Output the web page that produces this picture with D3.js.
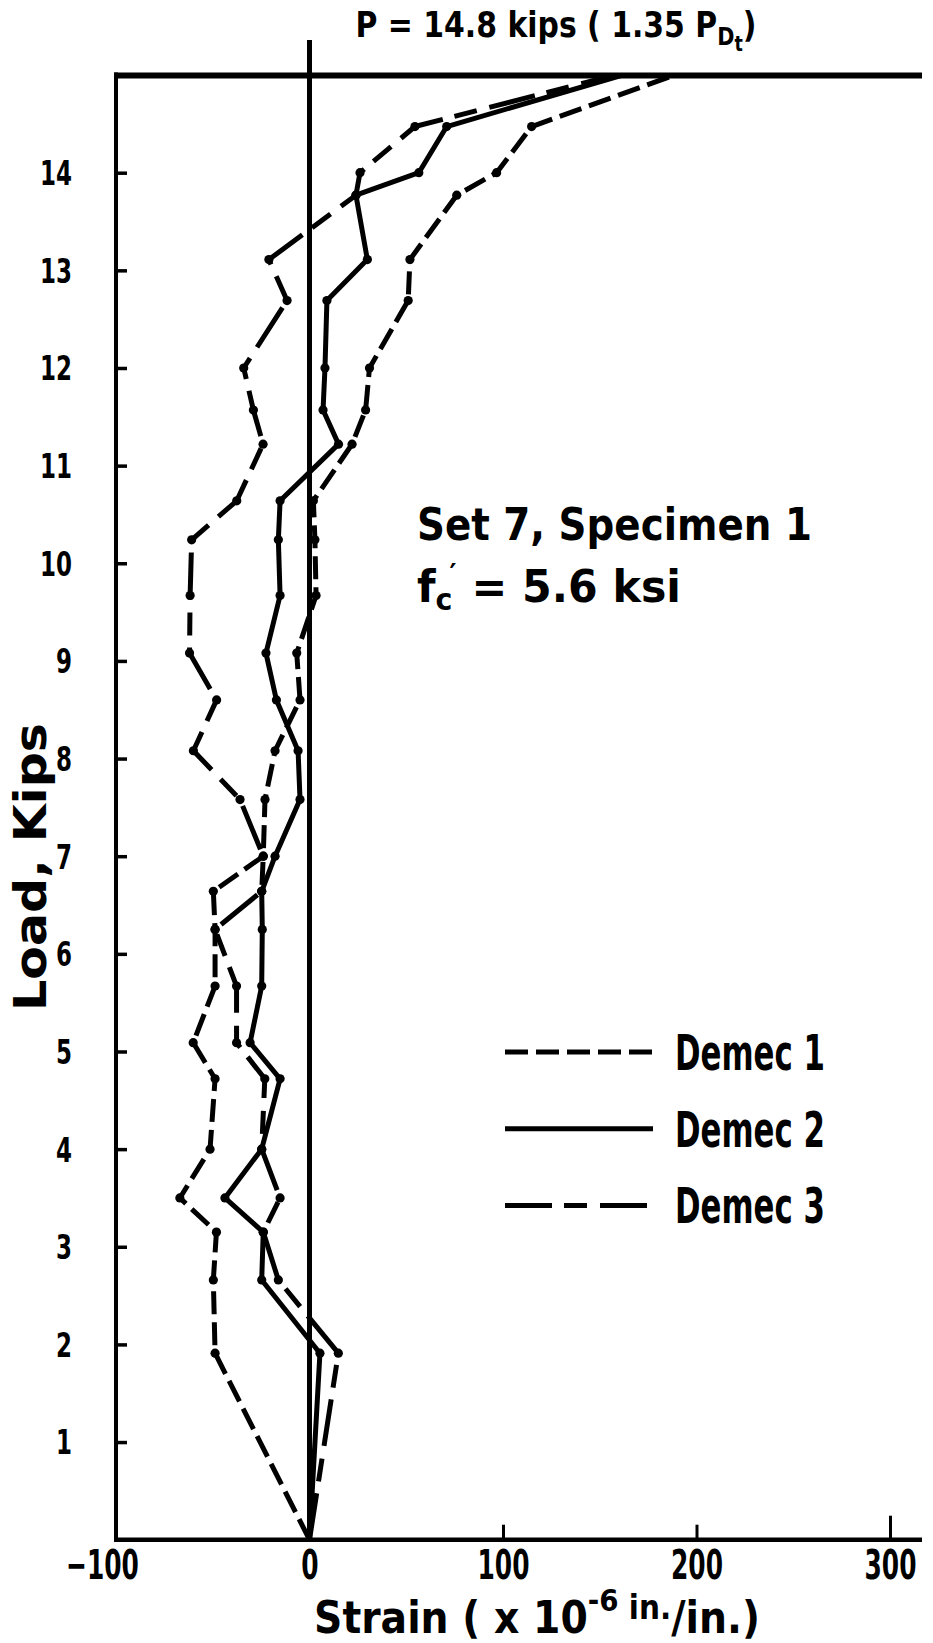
<!DOCTYPE html>
<html>
<head>
<meta charset="utf-8">
<script src="https://cdn.jsdelivr.net/npm/d3@7"></script>
<style>
  html, body { margin: 0; padding: 0; background: #fff; }
  svg { display: block; }
  text { font-family: "DejaVu Sans", "Liberation Sans", sans-serif; font-weight: bold; fill: #000; }
</style>
</head>
<body>
<svg id="chart" width="933" height="1643"></svg>
<script>
// Load steps (kips) at which the gauges were read
const loads = [0, 1.91, 2.66, 3.15, 3.5, 4.0, 4.72, 5.09, 5.67, 6.25, 6.64, 7.0, 7.58, 8.08, 8.6, 9.08, 9.67, 10.24, 10.64, 11.22, 11.57, 12.0, 12.69, 13.11, 13.77, 14.0, 14.38, 14.8];

// Strain readings (x 10^-6 in./in.), one per load step
const demec1 = [0, -48.8, -49.7, -48.1, -67, -51.4, -48.8, -60.1, -48.8, -48.8, -49.7, -23.9, -23, -17.8, -4.9, -6.6, 3.4, 2.8, 2, 22, 29, 31, 51, 51.9, 76.1, 96.7, 114.8, 188];
const demec2 = [0, 5.4, -24.7, -23.9, -43.7, -24.7, -15.2, -30.7, -24.7, -24.4, -24.7, -17.8, -4.9, -5.9, -17.1, -22.5, -15.2, -16.1, -15.2, 15, 7, 8, 9, 29.9, 24, 56.5, 70.9, 161];
const demec3 = [0, 14.9, -16.1, -23.9, -15.2, -24.7, -23.1, -37.7, -37.7, -48.8, -24.7, -23.9, -35.9, -60, -48, -62, -61.7, -60.9, -37.6, -24, -29, -34, -11.6, -21, 24, 26.1, 54.5, 157];

const seriesNames = ["Demec 1", "Demec 2", "Demec 3"];
const xTicks = [-100, 0, 100, 200, 300];
const yTicks = [1, 2, 3, 4, 5, 6, 7, 8, 9, 10, 11, 12, 13, 14];
const failureLoad = 14.8;

const dashes = { "Demec 1": "23,8", "Demec 2": null, "Demec 3": "47,12,23,13" };

const svg = d3.select("#chart");

const x = d3.scaleLinear().domain([-100, 300]).range([116, 890]);
// the frame top doubles as the failure-load line
const y = d3.scaleLinear().domain([0, 14, failureLoad]).range([1539.7, 172.7, 75.5]);

const series = [demec1, demec2, demec3].map((vals, i) => ({
  name: seriesNames[i],
  points: vals.map((s, j) => ({ strain: s, load: loads[j] }))
}));

// Narrow the lettering horizontally about an anchor so a text spans a given width
function squeeze(sel, anchorX, width) {
  const w = sel.node().getBBox().width;
  const k = w > 0 ? width / w : 1;
  const prev = sel.attr("transform") || "";
  sel.attr("transform", `${prev} translate(${anchorX},0) scale(${k},1) translate(${-anchorX},0)`);
  return k;
}

// ---- axes ----
const yAxis = d3.axisLeft(y).tickValues(yTicks).tickSize(-11).tickPadding(0).tickFormat(d3.format("d"));
const gy = svg.append("g").attr("transform", `translate(${x(-100)},0)`).call(yAxis);
gy.select(".domain").remove();
gy.selectAll(".tick line").attr("stroke", "#000").attr("stroke-width", 3.5);
const yLabels = gy.selectAll(".tick text")
  .attr("font-size", 33).attr("font-family", null).attr("fill", "#000")
  .attr("x", 0).attr("dy", "0.36em");
const kY = 32 / yLabels.filter(d => d === 14).node().getBBox().width;
yLabels.attr("transform", `translate(-44,0) scale(${kY},1)`);

const xAxis = d3.axisBottom(x).tickValues(xTicks).tickSize(-15).tickPadding(0).tickFormat(d3.format("d"));
const gx = svg.append("g").attr("transform", `translate(0,${y(0)})`).call(xAxis);
gx.select(".domain").remove();
gx.selectAll(".tick line").attr("stroke", "#000").attr("stroke-width", 3)
  .attr("display", d => d <= 0 ? "none" : null);
gx.selectAll(".tick line").filter(d => d === 300).attr("y2", -24);
const xLabels = gx.selectAll(".tick text")
  .attr("font-size", 41).attr("font-family", null).attr("fill", "#000")
  .attr("y", 39).attr("dy", 0).attr("x", 0);
const kX = 52 / xLabels.filter(d => d === 100).node().getBBox().width;
xLabels.attr("transform", d => `translate(${d < 0 ? -14 : 0},0) scale(${kX},1)`);

// frame lines
const frame = svg.append("g").attr("stroke", "#000").attr("fill", "none");
frame.append("line").attr("x1", x(-100)).attr("x2", x(-100)).attr("y1", y(failureLoad) - 3).attr("y2", y(0) + 2).attr("stroke-width", 4);
frame.append("line").attr("x1", x(-100) - 2).attr("x2", 922).attr("y1", y(0)).attr("y2", y(0)).attr("stroke-width", 4.5);
frame.append("line").attr("x1", x(0)).attr("x2", x(0)).attr("y1", 40).attr("y2", y(0)).attr("stroke-width", 5);
// failure load line
frame.append("line").attr("x1", x(-100) - 2).attr("x2", 922).attr("y1", y(failureLoad)).attr("y2", y(failureLoad)).attr("stroke-width", 6);

// ---- data ----
const line = d3.line().x(d => x(d.strain)).y(d => y(d.load));
const gData = svg.append("g");
series.forEach(s => {
  gData.append("path")
    .datum(s.points)
    .attr("d", line)
    .attr("fill", "none")
    .attr("stroke", "#000")
    .attr("stroke-width", 5)
    .attr("stroke-linejoin", "round")
    .attr("stroke-dasharray", dashes[s.name]);
  gData.selectAll(null)
    .data(s.points.slice(1, -1))
    .join("circle")
    .attr("cx", d => x(d.strain))
    .attr("cy", d => y(d.load))
    .attr("r", 4.6)
    .attr("fill", "#000");
});

// ---- titles ----
const title = svg.append("text").attr("x", 556).attr("y", 37).attr("text-anchor", "middle").attr("font-size", 36);
title.append("tspan").text("P = 14.8 kips ( 1.35 P");
title.append("tspan").attr("font-size", 25).attr("dy", 8).text("D");
title.append("tspan").attr("font-size", 21).attr("dy", 6).text("t");
title.append("tspan").attr("dy", -14).text(")");
squeeze(title, 556, 401);

const yTitle = svg.append("text")
  .attr("transform", `translate(46,867) rotate(-90)`)
  .attr("text-anchor", "middle")
  .attr("font-size", 45)
  .text("Load, Kips");
squeeze(yTitle, 0, 288);

const xt = svg.append("text").attr("x", 537).attr("y", 1633).attr("text-anchor", "middle").attr("font-size", 44);
xt.append("tspan").text("Strain ( x 10");
xt.append("tspan").attr("font-size", 31).attr("dy", -22).text("-6");
xt.append("tspan").attr("font-size", 33).attr("dy", 8).text(" in.");
xt.append("tspan").attr("dy", 14).text("/in.)");
squeeze(xt, 537, 446);

// ---- annotation ----
const setText = svg.append("text").attr("x", 417).attr("y", 540).attr("font-size", 44).text("Set 7, Specimen 1");
squeeze(setText, 417, 395);
const fc = svg.append("text").attr("x", 417).attr("y", 602).attr("font-size", 45);
fc.append("tspan").text("f");
fc.append("tspan").attr("font-size", 30).attr("dy", 8).text("c");
fc.append("tspan").attr("font-size", 28).attr("dx", -3).attr("dy", -26).text("\u2032");
fc.append("tspan").attr("dy", 18).text(" =  5.6 ksi");
squeeze(fc, 417, 264);

// ---- legend ----
const legend = svg.append("g").attr("transform", "translate(505,1052)");
seriesNames.forEach((name, i) => {
  const row = legend.append("g").attr("transform", `translate(0,${i * 76.7})`);
  row.append("line").attr("x1", 0).attr("x2", 148).attr("y1", 0).attr("y2", 0)
    .attr("stroke", "#000").attr("stroke-width", 5).attr("stroke-dasharray", dashes[name]);
  const t = row.append("text").attr("x", 170).attr("y", 18).attr("font-size", 50).text(name);
  squeeze(t, 170, 150);
});
</script>
</body>
</html>
